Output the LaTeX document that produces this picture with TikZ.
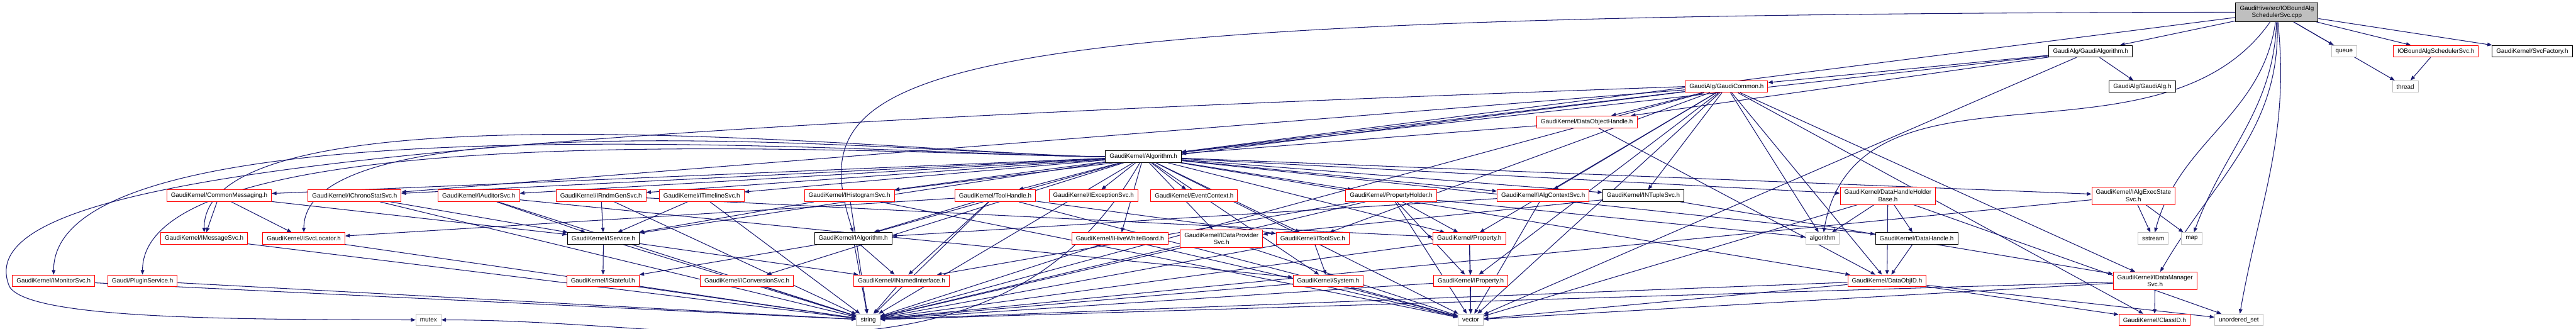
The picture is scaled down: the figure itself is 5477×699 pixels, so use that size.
\documentclass[tikz,border=0pt]{standalone}
\usepackage{fontspec}
\setmainfont{Liberation Sans}
\usetikzlibrary{arrows.meta, backgrounds}

\definecolor{edgeblue}{HTML}{191970}
\definecolor{sysgray}{HTML}{BFBFBF}
\tikzset{
  hdr/.style={draw=red, line width=0.35pt, fill=white, font=\fontsize{3.75}{4.3}\selectfont,
              inner xsep=2.5pt, inner ysep=0pt, minimum height=7.1pt, align=center},
  hdrblk/.style={hdr, draw=black},
  sysh/.style={hdr, draw=sysgray},
  twoline/.style={inner ysep=1.75pt},
  dep/.style={draw=edgeblue, line width=0.4pt, -{Triangle[length=2.8pt,width=2.2pt]}},
}

\begin{document}
\begin{tikzpicture}[x=0.2845pt, y=0.2845pt]
  \useasboundingbox (0,0) rectangle (5477,699);
  %% top: the source file and its direct headers
  \node[hdrblk, twoline, fill=sysgray] (M) at (4841,673) {GaudiHive/src/IOBoundAlg\\SchedulerSvc.cpp};
  \node[hdrblk] (GA)    at (4445,590) {GaudiAlg/GaudiAlgorithm.h};
  \node[sysh]   (queue) at (4984,590) {queue};
  \node[hdr]    (IOBh)  at (5179,590) {IOBoundAlgSchedulerSvc.h};
  \node[hdrblk] (SvcF)  at (5384,590) {GaudiKernel/SvcFactory.h};
  \node[hdr]    (GCom)  at (3671,515) {GaudiAlg/GaudiCommon.h};
  \node[hdrblk] (GAlgh) at (4555,515) {GaudiAlg/GaudiAlg.h};
  \node[sysh]   (thread) at (5114,515) {thread};
  \node[hdr]    (DOH)   at (3374,440) {GaudiKernel/DataObjectHandle.h};
  \node[hdrblk] (Alg)   at (2431,366) {GaudiKernel/Algorithm.h};
  %% row under Algorithm.h
  \node[hdr] (CMsg)    at (466,283)  {GaudiKernel/CommonMessaging.h};
  \node[hdr] (IChrono) at (754,283)  {GaudiKernel/IChronoStatSvc.h};
  \node[hdr] (IAud)    at (1018,283) {GaudiKernel/IAuditorSvc.h};
  \node[hdr] (IRndm)   at (1278,283) {GaudiKernel/IRndmGenSvc.h};
  \node[hdr] (ITime)   at (1492,283) {GaudiKernel/ITimelineSvc.h};
  \node[hdr] (IHist)   at (1806,283) {GaudiKernel/IHistogramSvc.h};
  \node[hdr] (ToolH)   at (2116,283) {GaudiKernel/ToolHandle.h};
  \node[hdr] (IExc)    at (2325,283) {GaudiKernel/IExceptionSvc.h};
  \node[hdr] (EvtCtx)  at (2539,283) {GaudiKernel/EventContext.h};
  \node[hdr] (PropH)   at (2958,283) {GaudiKernel/PropertyHolder.h};
  \node[hdr] (IAlgCtx) at (3281,283) {GaudiKernel/IAlgContextSvc.h};
  \node[hdrblk] (INTup) at (3494,283) {GaudiKernel/INTupleSvc.h};
  \node[hdr, twoline] (DHHB) at (4014,283) {GaudiKernel/DataHandleHolder\\Base.h};
  \node[hdr, twoline] (IAES) at (4536,283) {GaudiKernel/IAlgExecState\\Svc.h};
  %% middle row
  \node[hdr] (IMsg)    at (434,192)  {GaudiKernel/IMessageSvc.h};
  \node[hdr] (ISvcLoc) at (646,192)  {GaudiKernel/ISvcLocator.h};
  \node[hdrblk] (ISvc)  at (1283,192) {GaudiKernel/IService.h};
  \node[hdrblk] (IAlgm) at (1814,192) {GaudiKernel/IAlgorithm.h};
  \node[hdr] (IHive)   at (2381,192) {GaudiKernel/IHiveWhiteBoard.h};
  \node[hdr, twoline] (IDP) at (2597,192) {GaudiKernel/IDataProvider\\Svc.h};
  \node[hdr] (IToolSvc) at (2791,192) {GaudiKernel/IToolSvc.h};
  \node[hdr] (Prop)    at (3124,192) {GaudiKernel/Property.h};
  \node[sysh] (algorithm) at (3875,192) {algorithm};
  \node[hdrblk] (DH)    at (4075,192) {GaudiKernel/DataHandle.h};
  \node[sysh] (sstream) at (4578,192) {sstream};
  \node[sysh] (map)     at (4660,192) {map};
  %% lower row
  \node[hdr] (IMon)    at (114,102)  {GaudiKernel/IMonitorSvc.h};
  \node[hdr] (Plugin)  at (303,102)  {Gaudi/PluginService.h};
  \node[hdr] (IStateful) at (1282,102) {GaudiKernel/IStateful.h};
  \node[hdr] (IConv)   at (1588,102) {GaudiKernel/IConversionSvc.h};
  \node[hdr] (INamed)  at (1917,102) {GaudiKernel/INamedInterface.h};
  \node[hdr] (System)  at (2824,102) {GaudiKernel/System.h};
  \node[hdr] (IProp)   at (3127,102) {GaudiKernel/IProperty.h};
  \node[hdr] (DOID)    at (4012,102) {GaudiKernel/DataObjID.h};
  \node[hdr, twoline] (IDMS) at (4582,102) {GaudiKernel/IDataManager\\Svc.h};
  %% bottom row
  \node[sysh] (mutex)  at (911,19)  {mutex};
  \node[sysh] (string) at (1846,19) {string};
  \node[sysh] (vector) at (3127,19) {vector};
  \node[hdr]  (ClassID) at (4581,19) {GaudiKernel/ClassID.h};
  \node[sysh] (uset)   at (4760,19) {unordered\_set};

  \begin{scope}[on background layer]
  %% straight dependencies
  \foreach \s/\t in {M/GA, M/queue, M/IOBh, M/SvcF, M/thread, M/Alg, IOBh/thread,
      GA/GCom, GA/GAlgh, GA/DOH, GA/Alg, GA/vector,
      GCom/DOH, GCom/Alg, GCom/IAlgCtx, GCom/INTup, GCom/IToolSvc, GCom/Prop, GCom/IProp,
      GCom/vector, GCom/algorithm, GCom/DOID, GCom/IDMS, GCom/ClassID, GCom/IChrono,
      GCom/IHist, GCom/string, DOH/Alg, DOH/DOID,
      Alg/CMsg, Alg/IChrono, Alg/IAud, Alg/IRndm, Alg/ITime, Alg/IHist, Alg/ToolH,
      Alg/IExc, Alg/EvtCtx, Alg/PropH, Alg/IAlgCtx, Alg/INTup, Alg/DHHB, Alg/IAES,
      Alg/ISvc, Alg/IAlgm, Alg/IHive, Alg/IDP, Alg/IToolSvc, Alg/Prop, Alg/IConv,
      Alg/System, Alg/DOID, Alg/string, Alg/vector, Alg/DH,
      CMsg/IMsg, CMsg/ISvcLoc, CMsg/ISvc, IChrono/ISvc, IChrono/string,
      IAud/ISvc, IAud/string, IAud/System, IRndm/ISvc, IRndm/string, IRndm/Prop,
      ITime/ISvc, ITime/string, IHist/ISvc, IHist/string, IHist/vector,
      ToolH/IAlgm, ToolH/IToolSvc, ToolH/ISvcLoc, ToolH/string, ToolH/vector, ToolH/INamed,
      PropH/Prop, PropH/IProp, PropH/algorithm, PropH/string, PropH/vector, PropH/INamed,
      IAlgCtx/IAlgm, IAlgCtx/vector, INTup/IDP, INTup/IDMS,
      DHHB/algorithm, DHHB/DH, DHHB/DOID, DHHB/uset, DHHB/vector,
      IAES/sstream, IAES/map, IAES/string,
      IMsg/string, ISvcLoc/string, ISvc/IStateful, ISvc/INamed, ISvc/string,
      IAlgm/IStateful, IAlgm/INamed, IAlgm/string, IHive/string, IHive/vector,
      IDP/string, IDP/vector, IToolSvc/System, IToolSvc/string,
      Prop/IProp, Prop/string, Prop/vector, IProp/string, IProp/vector,
      System/string, System/vector, INamed/string, IStateful/string, IConv/string,
      IMon/string, Plugin/string, DOID/ClassID, DOID/uset, DOID/string, DOID/vector,
      DH/DOID, IDMS/ClassID, IDMS/string, IDMS/vector}
    \draw[dep] (\s) -- (\t);
  %% bent dependencies
  \foreach \s/\t/\o/\i in {M/algorithm/235/80, M/sstream/262/75, M/map/268/70,
      M/IDMS/272/60, M/uset/276/80, Alg/mutex/240/0}
    \draw[dep] (\s) to[out=\o,in=\i] (\t);
  \foreach \s/\t in {Alg/IMon, Alg/Plugin, Alg/IMsg, Alg/ISvcLoc}
    \draw[dep] (\s) to[out=180,in=90,looseness=0.45] (\t);
  \draw[dep] (M.west) .. controls (1900,670) and (1700,560) .. (IAlgm.north);
  \draw[dep] (GCom.west) .. controls (900,420) and (-80,330) .. (20,90)
                         .. controls (60,20) and (500,20) .. (mutex.west);
  \end{scope}
\end{tikzpicture}
\end{document}
